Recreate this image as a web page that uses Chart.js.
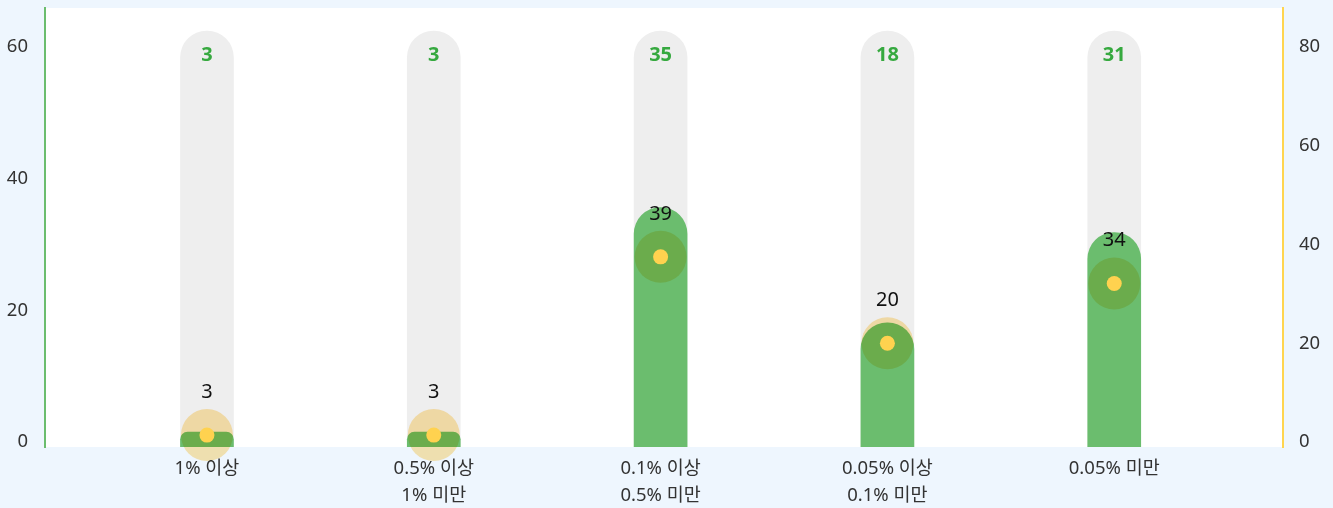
<!DOCTYPE html>
<html>
<head>
<meta charset="utf-8">
<script src="https://cdn.jsdelivr.net/npm/chart.js@4.4.1/dist/chart.umd.min.js"></script>
<style>
  html, body { margin: 0; padding: 0; background: #eef6fe; }
  #wrap { width: 1333px; height: 508px; }
</style>
</head>
<body>
<div id="wrap"><canvas id="c" width="1333" height="508"></canvas></div>
<script>
// ---- data ----
const categories = [
  ['1% 이상'],
  ['0.5% 이상', '1% 미만'],
  ['0.1% 이상', '0.5% 미만'],
  ['0.05% 이상', '0.1% 미만'],
  ['0.05% 미만']
];
const barValues   = [1.5, 1.5, 35.6, 18.1, 31.8];   // green bars (left axis)
const barLabels   = [3, 3, 35, 18, 31];             // green labels at top
const trackValues = [62.4, 62.4, 62.4, 62.4, 62.4]; // grey background tracks
const pointValues = [1.4, 1.4, 37.5, 20.0, 32.1];   // yellow points (right axis)
const pointLabels = [3, 3, 39, 20, 34];             // black labels above points
const leftTicks   = [0, 20, 40, 60];
const rightTicks  = [0, 20, 40, 60, 80];

const FONT = "'Noto Sans', 'Noto Sans CJK KR', sans-serif";

const toXY = arr => arr.map((v, i) => ({ x: i, y: v }));

const bgPlugin = {
  id: 'bg',
  beforeDraw(chart) {
    const { ctx, chartArea: a } = chart;
    ctx.save();
    ctx.fillStyle = '#eef6fe';
    ctx.fillRect(0, 0, chart.width, chart.height);
    ctx.fillStyle = '#ffffff';
    ctx.fillRect(a.left, a.top, a.right - a.left, a.bottom - a.top);
    ctx.restore();
  }
};

const blendPlugin = {
  id: 'blend',
  beforeDatasetDraw(chart, args) {
    if (args.index === 1) { chart.ctx.save(); chart.ctx.globalCompositeOperation = 'multiply'; }
  },
  afterDatasetDraw(chart, args) {
    if (args.index === 1) { chart.ctx.restore(); }
  }
};

const labelPlugin = {
  id: 'labels',
  afterDatasetsDraw(chart) {
    const ctx = chart.ctx;
    const track = chart.getDatasetMeta(3).data;
    const pts = chart.getDatasetMeta(0).data;
    ctx.save();
    ctx.textAlign = 'center';
    ctx.textBaseline = 'middle';
    ctx.font = 'bold 20px ' + FONT;
    ctx.fillStyle = '#36a93f';
    track.forEach((el, i) => ctx.fillText(String(barLabels[i]), el.x, el.y + 24));
    ctx.font = '20px ' + FONT;
    ctx.fillStyle = '#111111';
    pts.forEach((el, i) => ctx.fillText(String(pointLabels[i]), el.x, el.y - 43));
    ctx.restore();
  }
};

const LEFT_MIN = -0.76, LEFT_MAX = 65.92;
const RIGHT_MIN = -1.01, RIGHT_MAX = 87.9;

const noPad = s => { s.paddingTop = 0; s.paddingBottom = 0; s.paddingLeft = 0; s.paddingRight = 0; };

new Chart(document.getElementById('c'), {
  data: {
    datasets: [
      { type: 'line', data: toXY(pointValues), yAxisID: 'y1', showLine: false,
        pointRadius: 7.5, pointHoverRadius: 7.5, pointBackgroundColor: '#ffd24f',
        pointBorderWidth: 0, order: 0, clip: false },
      { type: 'line', data: toXY(pointValues), yAxisID: 'y1', showLine: false,
        pointRadius: 26, pointHoverRadius: 26, pointBackgroundColor: 'rgb(255,232,176)',
        pointBorderWidth: 0, order: 1, clip: false },
      { type: 'bar', data: toXY(barValues), yAxisID: 'y', backgroundColor: '#6bbd6e',
        barThickness: 53, borderRadius: 27, borderSkipped: 'start', grouped: false,
        base: LEFT_MIN, order: 2 },
      { type: 'bar', data: toXY(trackValues), yAxisID: 'y', backgroundColor: '#eeeeee',
        barThickness: 53, borderRadius: 27, borderSkipped: 'start', grouped: false,
        base: LEFT_MIN, order: 3 }
    ]
  },
  options: {
    responsive: false,
    animation: false,
    events: [],
    layout: { autoPadding: false, padding: { top: 8, left: 0, right: 0, bottom: 0 } },
    plugins: { legend: { display: false }, tooltip: { enabled: false } },
    scales: {
      x: {
        type: 'linear', offset: false, bounds: 'data',
        min: -0.714, max: 4.744,
        grid: { display: false, drawTicks: false },
        border: { display: false },
        afterBuildTicks: s => { s.ticks = categories.map((_, i) => ({ value: i })); },
        afterFit: s => { s.height = 61; noPad(s); },
        ticks: {
          autoSkip: false, maxRotation: 0, padding: 9,
          color: '#333333',
          font: { family: FONT, size: 18.5, lineHeight: 1.43 },
          callback: v => categories[v] || ''
        }
      },
      y: {
        type: 'linear', position: 'left', bounds: 'data',
        min: LEFT_MIN, max: LEFT_MAX,
        grid: { display: false, drawTicks: false },
        border: { display: true, color: '#6bbd6e', width: 2 },
        afterBuildTicks: s => { s.ticks = leftTicks.map(v => ({ value: v })); },
        afterFit: s => { s.width = 45; noPad(s); },
        ticks: { padding: 17, color: '#333333', font: { family: FONT, size: 18.5 } }
      },
      y1: {
        type: 'linear', position: 'right', bounds: 'data',
        min: RIGHT_MIN, max: RIGHT_MAX,
        grid: { display: false, drawTicks: false },
        border: { display: true, color: '#ffd54f', width: 2 },
        afterBuildTicks: s => { s.ticks = rightTicks.map(v => ({ value: v })); },
        afterFit: s => { s.width = 50; noPad(s); },
        ticks: { padding: 16, color: '#333333', font: { family: FONT, size: 18.5 } }
      }
    }
  },
  plugins: [bgPlugin, blendPlugin, labelPlugin]
});
</script>
</body>
</html>
